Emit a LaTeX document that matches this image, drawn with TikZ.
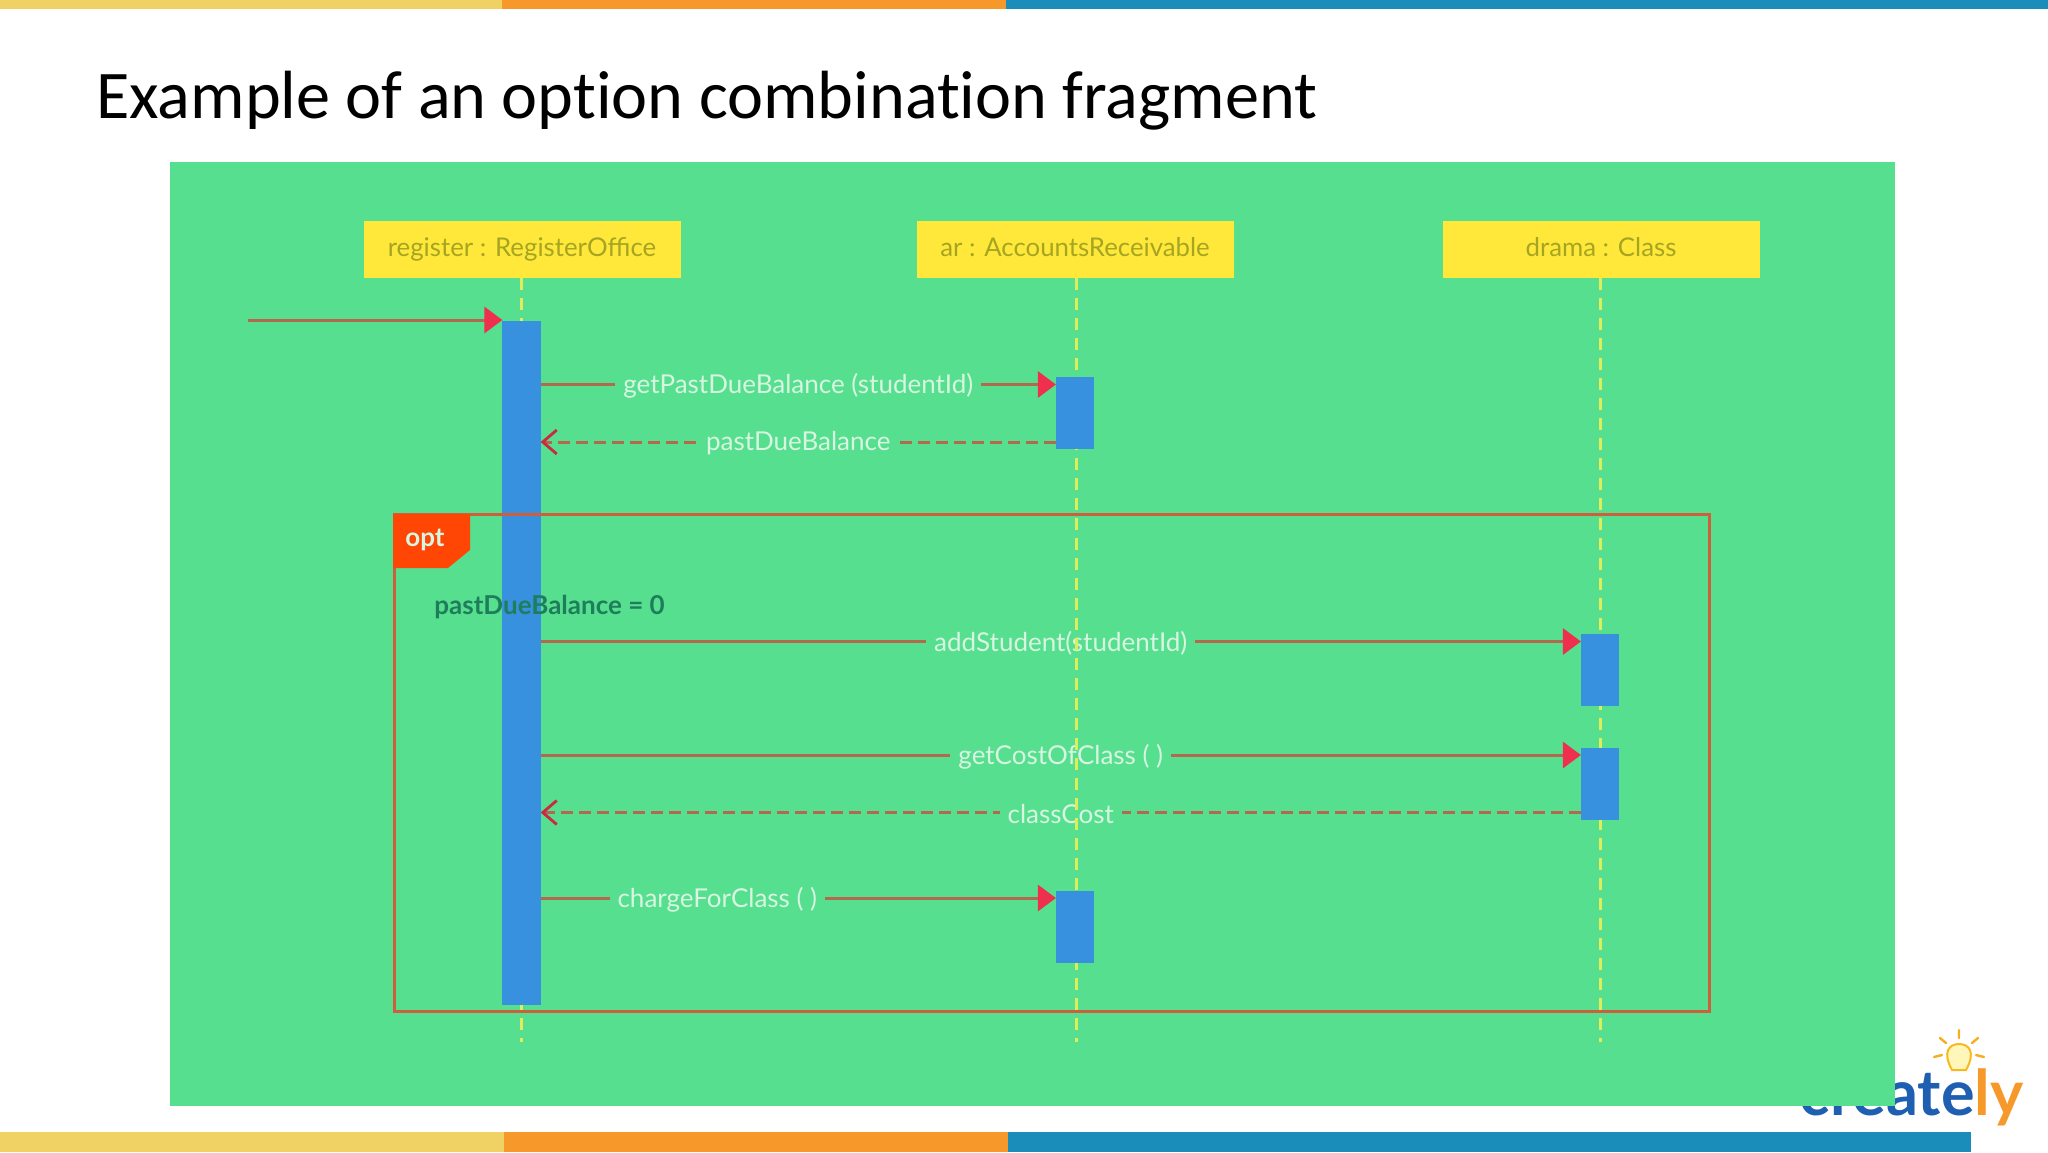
\documentclass[tikz,border=0pt]{standalone}
\usepackage{fontspec}
\setmainfont{Lato}
\newfontfamily\titlefont[Ligatures=NoCommon]{Carlito}
\usetikzlibrary{arrows.meta,positioning,calc,shapes.geometric}
\definecolor{BarYellow}{RGB}{240,210,100}
\definecolor{BarOrange}{RGB}{247,153,42}
\definecolor{BarBlue}{RGB}{26,141,187}
\definecolor{PanelGreen}{RGB}{86,223,142}
\definecolor{HeadYellow}{RGB}{255,232,58}
\definecolor{HeadText}{RGB}{165,165,35}
\definecolor{BarFill}{RGB}{55,145,222}
\definecolor{LifeLine}{RGB}{222,238,90}
\definecolor{HeadRed}{RGB}{238,48,78}
\definecolor{LineBrown}{RGB}{178,105,78}
\definecolor{FrameRed}{RGB}{205,95,60}
\definecolor{TabRed}{RGB}{255,70,5}
\definecolor{LabelText}{RGB}{215,245,225}
\definecolor{GuardText}{RGB}{30,125,90}
\definecolor{LogoBlue}{RGB}{30,95,178}

\begin{document}
\begin{tikzpicture}[
      x=0.5pt,y=-0.5pt,
      hNode/.style={fill=HeadYellow,minimum width=158.5pt,minimum height=28.5pt,inner sep=0pt,
                    text height=9.5pt,text depth=1.7pt,
                    font=\fontsize{12.9}{15}\selectfont,text=HeadText},
      aNode/.style={fill=BarFill,minimum width=18.7pt,inner sep=0pt},
      life/.style={dashed,dash pattern=on 6pt off 4pt,line width=1.5pt,color=LifeLine},
      call/.style={-{Triangle[length=9pt,width=13pt,color=HeadRed]},line width=1.5pt,color=LineBrown},
      back/.style={-{Straight Barb[length=7pt,width=12pt,color=HeadRed!85!black,line width=1.4pt]},
                   dashed,dash pattern=on 6pt off 3pt,line width=1.5pt,color=LineBrown},
      lbl/.style={fill=PanelGreen,inner xsep=4pt,inner ysep=1pt,yshift=-0.8pt,
                  font=\fontsize{13}{15}\selectfont,text=LabelText}
    ]
    \useasboundingbox (0,0) rectangle (2048,1152);

    % Slide bars and title
    \fill[BarYellow] (0,0) rectangle (502,9);
    \fill[BarOrange] (502,0) rectangle (1006,9);
    \fill[BarBlue] (1006,0) rectangle (2048,9);
    \fill[BarYellow] (0,1132) rectangle (504,1152);
    \fill[BarOrange] (504,1132) rectangle (1008,1152);
    \fill[BarBlue] (1008,1132) rectangle (1971,1152);
    \node(title)[anchor=base west,inner sep=0pt,font=\titlefont\fontsize{34.1}{40}\selectfont] at (96,118)
      {Example of an option combination fragment};

    % Logo, partly under the panel
    \node(logo)[anchor=base east,inner sep=0pt,font=\fontsize{31.5}{38}\selectfont\bfseries,text=LogoBlue] at (2024,1115)
      {create\textcolor{BarOrange}{ly}};
    \draw[line width=1pt,draw=BarOrange!70!yellow,fill=HeadYellow!35] (1952,1070)
      .. controls (1942,1052) and (1949,1044) .. (1959,1044)
      .. controls (1969,1044) and (1976,1052) .. (1966,1070) -- cycle;
    \draw[line width=1.2pt,BarOrange!80!yellow,line cap=round]
      (1959,1030) -- (1959,1038) (1940,1038) -- (1946,1043) (1978,1038) -- (1972,1043)
      (1934,1057) -- (1942,1055) (1984,1057) -- (1976,1055);

    % Panel
    \fill[PanelGreen] (170,162) rectangle (1895,1106);

    % Objects
    \node(reg)[hNode] at (522,249) {register : RegisterOffice};
    \node(ar)[hNode] at (1075,249) {ar : AccountsReceivable};
    \node(drama)[hNode] at (1601,249) {drama : Class};

    % Free ends
    \coordinate(start) at (248,320);
    \coordinate(regEnd) at (521,1042);
    \coordinate(arEnd) at (1076,1042);
    \coordinate(dramaEnd) at (1600,1042);

    % Activation bars
    \node(mainBar)[aNode,minimum height=342pt] at (521.5,663) {};
    \node(arBarA)[aNode,minimum height=36pt] at (1075,413) {};
    \node(arBarB)[aNode,minimum height=36pt] at (1075,927) {};
    \node(dramaBarA)[aNode,minimum height=36pt] at (1600,670) {};
    \node(dramaBarB)[aNode,minimum height=36pt] at (1600,784) {};

    % Messages
    \draw[call] (start) -- (mainBar.north west |- start);
    \draw[call] (mainBar.east |- 0,384.5) -- node[lbl]{getPastDueBalance (studentId)} (arBarA.west |- 0,384.5);
    \draw[back] (arBarA.west |- 0,442) -- node[lbl]{pastDueBalance} (mainBar.east |- 0,442);
    \draw[call] (mainBar.east |- 0,641.5) -- node[lbl]{addStudent(studentId)} (dramaBarA.west |- 0,641.5);
    \draw[call] (mainBar.east |- 0,755) -- node[lbl]{getCostOfClass ( )} (dramaBarB.west |- 0,755);
    \draw[back] (dramaBarB.west |- 0,812.5) -- node[lbl]{classCost} (mainBar.east |- 0,812.5);
    \draw[call] (mainBar.east |- 0,898) -- node[lbl,pos=0.343]{chargeForClass ( )} (arBarB.west |- 0,898);

    % Lifelines
    \draw[life] (reg.south -| regEnd) -- (regEnd);
    \draw[life] (ar.south -| arEnd) -- (arEnd);
    \draw[life] (drama.south -| dramaEnd) -- (dramaEnd);

    % Redraw bars over the lifelines
    \fill[BarFill] (mainBar.north west) rectangle (mainBar.south east);
    \fill[BarFill] (arBarA.north west) rectangle (arBarA.south east);
    \fill[BarFill] (arBarB.north west) rectangle (arBarB.south east);
    \fill[BarFill] (dramaBarA.north west) rectangle (dramaBarA.south east);
    \fill[BarFill] (dramaBarB.north west) rectangle (dramaBarB.south east);

    % Option fragment
    \draw[FrameRed,line width=1.5pt] (394,514.5) rectangle (1709,1011);
    \fill[TabRed] (393,514) -- (470,514) -- (470,550) -- (448,568) -- (393,568) -- cycle;
    \node(opt)[anchor=base west,inner sep=0pt,font=\fontsize{13}{15}\selectfont\bfseries,text=LabelText] at (405,546.5) {opt};
    \node(guard)[anchor=base west,inner sep=0pt,font=\fontsize{13}{15}\selectfont\bfseries,text=GuardText] at (434,614.5) {pastDueBalance = 0};
  \end{tikzpicture}
\end{document}
